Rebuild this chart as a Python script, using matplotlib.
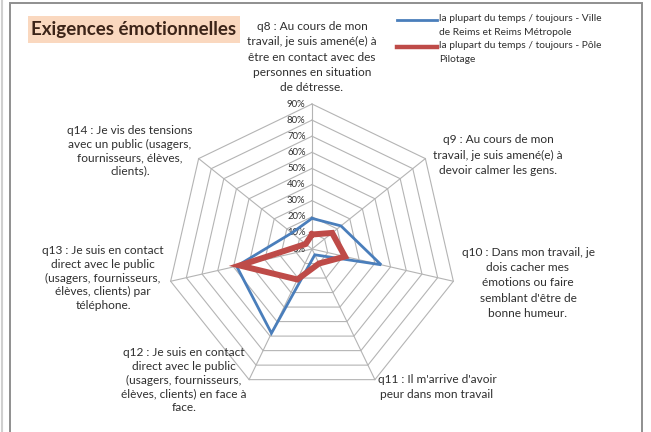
"""Radar chart - Exigences émotionnelles"""

import matplotlib.pyplot as plt
import numpy as np
from matplotlib.lines import Line2D
from matplotlib.patches import Rectangle

# ---- data ----
categories = [
    "q8 : Au cours de mon\ntravail, je suis amené(e) à\nêtre en contact avec des\npersonnes en situation\nde détresse.",
    "q9 : Au cours de mon\ntravail, je suis amené(e) à\ndevoir calmer les gens.",
    "q10 : Dans mon travail, je\ndois cacher mes\némotions ou faire\nsemblant d'être de\nbonne humeur.",
    "q11 : Il m'arrive d'avoir\npeur dans mon travail",
    "q12 : Je suis en contact\ndirect avec le public\n(usagers, fournisseurs,\nélèves, clients) en face à\nface.",
    "q13 : Je suis en contact\ndirect avec le public\n(usagers, fournisseurs,\nélèves, clients) par\ntéléphone.",
    "q14 : Je vis des tensions\navec un public (usagers,\nfournisseurs, élèves,\nclients).",
]
ville_values = [0.19, 0.23, 0.44, 0.04, 0.58, 0.48, 0.16]
pilotage_values = [0.09, 0.16, 0.21, 0.10, 0.21, 0.46, 0.05]
series_names = [
    "la plupart du temps / toujours - Ville\nde Reims et Reims Métropole",
    "la plupart du temps / toujours - Pôle\nPilotage",
]
ring_values = [0.1, 0.2, 0.3, 0.4, 0.5, 0.6, 0.7, 0.8, 0.9]
ring_labels = ["0%", "10%", "20%", "30%", "40%", "50%", "60%", "70%", "80%", "90%"]
title = "Exigences émotionnelles"

# ---- layout (pixel positions in a 651x432 canvas) ----
W, H = 651, 432
CX, CY, R90 = 312, 249, 145
label_pos = [(312, 57), (498, 155), (528, 283), (437, 387), (184, 380), (103, 278), (130, 151)]
label_spacing = [1.45, 1.5, 1.45, 1.5, 1.3, 1.3, 1.27]

BLUE = "#4a7ebb"
RED = "#be4b48"
GRID = "#b4b4b4"
TEXT = "#2f2f2f"
FONT = "Lato"


def fx(px):
    return px / W


def fy(py):
    return 1 - py / H


def to_xy(values, angles):
    vals = np.asarray(values)
    return vals * np.cos(angles), vals * np.sin(angles)


fig = plt.figure(figsize=(W / 100, H / 100), dpi=100)
fig.patch.set_facecolor("white")

half = 165
ax = fig.add_axes([fx(CX - half), fy(CY + half), 2 * half / W, 2 * half / H])
lim = half / R90 * 0.9
ax.set_xlim(-lim, lim)
ax.set_ylim(-lim, lim)
ax.set_aspect("equal")
ax.axis("off")

n = len(categories)
angles = np.pi / 2 - np.arange(n) * 2 * np.pi / n
closed = np.append(angles, angles[0])

# heptagon grid + spokes
for r in ring_values:
    gx, gy = to_xy([r] * (n + 1), closed)
    ax.plot(gx, gy, color=GRID, lw=0.8, zorder=1)
for a in angles:
    ax.plot([0, 0.9 * np.cos(a)], [0, 0.9 * np.sin(a)], color=GRID, lw=0.8, zorder=1)

# radial tick labels
for i, lab in enumerate(ring_labels):
    ax.text(-0.04, i * 0.1, lab, ha="right", va="center", fontsize=6.8,
            color=TEXT, family=FONT, zorder=2)

# series
bx, by = to_xy(ville_values + ville_values[:1], closed)
ax.plot(bx, by, color=BLUE, lw=2.0, zorder=3, solid_joinstyle="miter")
rx, ry = to_xy(pilotage_values + pilotage_values[:1], closed)
ax.plot(rx, ry, color=RED, lw=4.3, zorder=4, solid_joinstyle="miter")

# category labels
for lab, (px, py), ls in zip(categories, label_pos, label_spacing):
    fig.text(fx(px), fy(py), lab, ha="center", va="center", fontsize=8.6,
             color=TEXT, family=FONT, linespacing=ls)

# title with peach box
fig.add_artist(Rectangle((fx(28), fy(43)), fx(240) - fx(28), fy(16) - fy(43),
                         transform=fig.transFigure, facecolor="#fad8bf",
                         edgecolor="none", zorder=0))
fig.text(fx(134), fy(30), title, ha="center", va="center", fontsize=13.5,
         fontweight="bold", color="#3c2418", family=FONT)

# legend
for name, color, lw, py in zip(series_names, [BLUE, RED], [2.0, 3.2], [20, 47]):
    fig.add_artist(Line2D([fx(397), fx(437)], [fy(py), fy(py)], color=color,
                          lw=lw, transform=fig.transFigure))
    fig.text(fx(439), fy(py - 6), name, ha="left", va="top", fontsize=7.4,
             color=TEXT, family=FONT, linespacing=1.75)

# chart frame
fig.add_artist(Line2D([fx(2), fx(2)], [0, fy(0)], color="#cfcfcf", lw=1.5,
                      transform=fig.transFigure))
fig.add_artist(Rectangle((fx(10), fy(440)), fx(642) - fx(10), fy(3) - fy(440),
                         transform=fig.transFigure, facecolor="none",
                         edgecolor="#8f8f8f", lw=1.4))

fig.savefig("out.png", dpi=100)
